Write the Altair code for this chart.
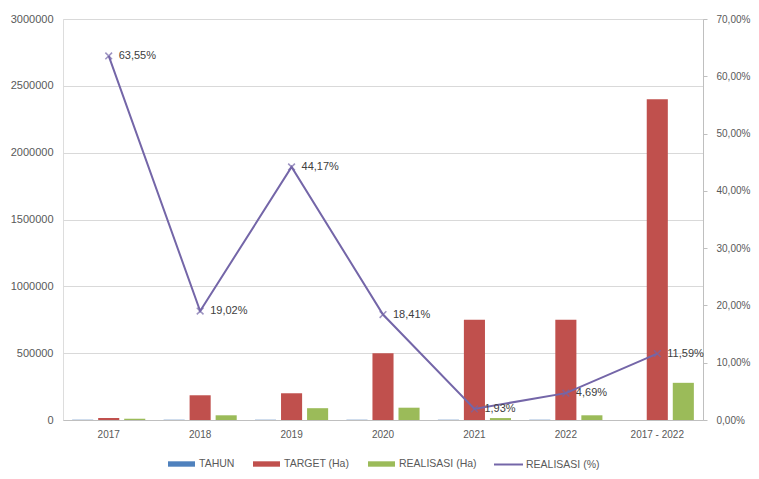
import altair as alt
import pandas as pd

categories = ["2017", "2018", "2019", "2020", "2021", "2022", "2017 - 2022"]
tahun = [2017, 2018, 2019, 2020, 2021, 2022, None]
target_ha = [15000, 185000, 200000, 500000, 750000, 750000, 2400000]
realisasi_ha = [9530, 35190, 88340, 92050, 14480, 35180, 278160]
realisasi_pct = [63.55, 19.02, 44.17, 18.41, 1.93, 4.69, 11.59]

bar_series = ["TAHUN", "TARGET (Ha)", "REALISASI (Ha)"]
bar_colors = ["#4F81BD", "#C0504D", "#9BBB59"]
line_series = "REALISASI (%)"
line_color = "#7466A8"

rows = []
for i, c in enumerate(categories):
    for name, vals in zip(bar_series, [tahun, target_ha, realisasi_ha]):
        if vals[i] is not None:
            rows.append({"cat": c, "series": name, "value": vals[i]})
bar_df = pd.DataFrame(rows)

line_df = pd.DataFrame({
    "cat": categories,
    "pct": [p / 100 for p in realisasi_pct],
    "label": [f"{p:.2f}".replace(".", ",") + "%" for p in realisasi_pct],
    "name": [line_series] * len(categories),
})

FONT = "Liberation Sans"
TXT = "#595959"

x_enc = alt.X(
    "cat:N", sort=categories,
    scale=alt.Scale(paddingInner=0.2, paddingOuter=0.1),
    axis=alt.Axis(title=None, labelAngle=0, ticks=False, domainColor="#BFBFBF",
                  labelColor=TXT, labelFontSize=10, labelPadding=9, grid=False),
)

bars = alt.Chart(bar_df).mark_bar().encode(
    x=x_enc,
    xOffset=alt.XOffset("series:N", sort=bar_series,
                        scale=alt.Scale(paddingInner=0.19, paddingOuter=0)),
    y=alt.Y("value:Q", scale=alt.Scale(domain=[0, 3000000], nice=False),
            axis=alt.Axis(title=None, values=list(range(0, 3000001, 500000)), format="d",
                          domain=False, ticks=False, gridColor="#D9D9D9",
                          labelColor=TXT, labelFontSize=11, labelPadding=10)),
    fill=alt.Fill("series:N", sort=bar_series,
                  scale=alt.Scale(domain=bar_series, range=bar_colors),
                  legend=alt.Legend(title=None, orient="none", direction="horizontal",
                                    legendX=105, legendY=431.5,
                                    symbolType="M-1,-0.2H1V0.2H-1Z", symbolSize=729,
                                    symbolStrokeWidth=0, labelOffset=4, columnPadding=18,
                                    labelFontSize=10.5, labelColor=TXT)),
)

y_pct = alt.Y("pct:Q", scale=alt.Scale(domain=[0, 0.7], nice=False),
              axis=alt.Axis(title=None, orient="right", values=[i / 10 for i in range(8)],
                            labelExpr="replace(format(datum.value*100, '.2f'), '.', ',') + '%'",
                            grid=False, domain=True, domainColor="#BFBFBF", ticks=True,
                            tickColor="#BFBFBF", tickSize=4, labelColor=TXT,
                            labelFontSize=10, labelPadding=9))

line = alt.Chart(line_df).mark_line(strokeWidth=2).encode(
    x=x_enc, y=y_pct,
    stroke=alt.Stroke("name:N", scale=alt.Scale(domain=[line_series], range=[line_color]),
                      legend=alt.Legend(title=None, orient="none", direction="horizontal",
                                        legendX=430, legendY=430,
                                        symbolType="stroke", symbolSize=841,
                                        symbolStrokeWidth=2, labelOffset=2,
                                        labelFontSize=10.5, labelColor=TXT)),
)
points = alt.Chart(line_df).mark_point(
    shape="M-1,-1L1,1M-1,1L1,-1", filled=False, size=45, color=line_color, strokeWidth=1.5
).encode(x=x_enc, y=y_pct)
labels = alt.Chart(line_df).mark_text(
    align="left", baseline="middle", dx=10, fontSize=11, color="#404040", font=FONT
).encode(x=x_enc, y=y_pct, text="label:N")

chart = alt.layer(bars, alt.layer(line, points, labels)).resolve_scale(
    y="independent"
).properties(
    width=640, height=401,
    autosize=alt.AutoSizeParams(type="none"),
    padding={"left": 55, "top": 11, "right": 48, "bottom": 51},
).configure_view(stroke=None).configure(font=FONT).configure_axis(labelFont=FONT).configure_legend(labelFont=FONT)

chart.save("out.html", embed_options={"renderer": "svg", "actions": False})
